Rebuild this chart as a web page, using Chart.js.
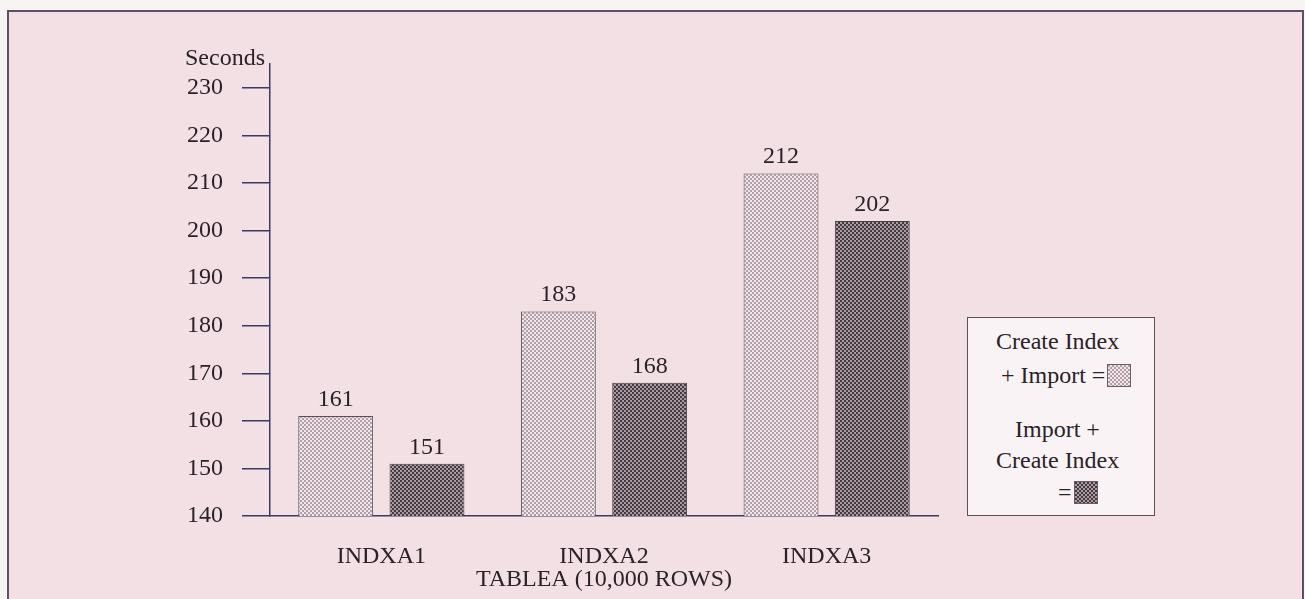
<!DOCTYPE html>
<html>
<head>
<meta charset="utf-8">
<script src="https://cdn.jsdelivr.net/npm/chart.js@4.4.0/dist/chart.umd.min.js"></script>
<style>
  html, body { margin: 0; padding: 0; background: #f7f4f3; overflow: hidden; }
  #frame {
    position: absolute; left: 7px; top: 10px; width: 1293px; height: 600px;
    background: #f2e0e5; border: 2px solid #5c5266;
  }
  #wrap { position: absolute; left: 0; top: 0; width: 1305px; height: 599px; }
  #legendBox {
    position: absolute; left: 967px; top: 317px; width: 186px; height: 197px;
    background: #faf3f5; border: 1px solid #5a5058;
    font-family: "Liberation Serif", serif; font-size: 24px; color: #2a2228;
  }
  #legendBox div { position: absolute; white-space: nowrap; line-height: 28px; }
  .sw { display: inline-block; width: 24px; height: 23px; vertical-align: -4px; margin-left: 2px; border: 1px solid #6a5e66; box-sizing: border-box; }
</style>
</head>
<body>
<div id="frame"></div>
<div id="wrap"><canvas id="chart" width="1305" height="599"></canvas></div>
<div id="legendBox">
  <div style="left:28px;top:9px">Create Index</div>
  <div style="left:33px;top:43px">+ Import =<span class="sw" id="sw1"></span></div>
  <div style="left:47px;top:97px">Import +</div>
  <div style="left:28px;top:128px">Create Index</div>
  <div style="left:90px;top:160px">=<span class="sw" id="sw2"></span></div>
</div>
<script>
// Données
const categories = ['INDXA1', 'INDXA2', 'INDXA3'];
const createThenImport = [161, 183, 212];
const importThenCreate = [151, 168, 202];
const seriesNames = ['Create Index + Import', 'Import + Create Index'];
const yTicks = [140, 150, 160, 170, 180, 190, 200, 210, 220, 230];

// motifs pointillés des barres (damier 2 px)
function makePattern(bg, fg) {
  const c = document.createElement('canvas');
  c.width = 4; c.height = 4;
  const g = c.getContext('2d');
  g.fillStyle = bg; g.fillRect(0, 0, 4, 4);
  g.fillStyle = fg;
  g.fillRect(0, 0, 2, 2);
  g.fillRect(2, 2, 2, 2);
  return c;
}
const lightTile = makePattern('#f2e6ea', '#b09fa6');
const darkTile = makePattern('#aa9ca2', '#443a40');
const ctxChart = document.getElementById('chart').getContext('2d');
const lightFill = ctxChart.createPattern(lightTile, 'repeat');
const darkFill = ctxChart.createPattern(darkTile, 'repeat');
document.getElementById('sw1').style.background = 'url(' + lightTile.toDataURL() + ')';
document.getElementById('sw2').style.background = 'url(' + darkTile.toDataURL() + ')';

const axisColor = '#3a3a64';
const serif = 'Liberation Serif';
const textColor = '#2a2228';

// valeurs au-dessus des barres + titre "Seconds"
const labelsPlugin = {
  id: 'labelsPlugin',
  afterDatasetsDraw(chart) {
    const g = chart.ctx;
    g.save();
    g.font = '24px "' + serif + '"';
    g.fillStyle = textColor;
    g.textAlign = 'center';
    g.textBaseline = 'alphabetic';
    chart.data.datasets.forEach((ds, i) => {
      chart.getDatasetMeta(i).data.forEach((bar, j) => {
        g.fillText(ds.data[j], bar.x, bar.y - 10);
      });
    });
    g.textAlign = 'left';
    g.fillText('Seconds', 185, chart.scales.y.top + 1);
    g.restore();
  }
};

new Chart(ctxChart, {
  type: 'bar',
  data: {
    labels: categories,
    datasets: [{
      label: seriesNames[0],
      data: createThenImport,
      backgroundColor: lightFill,
      borderColor: '#5a5058',
      borderWidth: 1
    }, {
      label: seriesNames[1],
      data: importThenCreate,
      backgroundColor: darkFill,
      borderColor: '#4a4046',
      borderWidth: 1
    }]
  },
  options: {
    responsive: false,
    animation: false,
    layout: { padding: { left: 0, right: 367, top: 64, bottom: 0 } },
    categoryPercentage: 0.82,
    barPercentage: 0.82,
    plugins: { legend: { display: false }, tooltip: { enabled: false } },
    scales: {
      x: {
        grid: { display: false },
        border: { display: true, color: axisColor, width: 1.5 },
        ticks: { color: textColor, font: { family: serif, size: 24 }, padding: 18 },
        title: { display: true, text: 'TABLEA (10,000 ROWS)', color: textColor, font: { family: serif, size: 24 }, padding: { top: 0, bottom: 5 } },
        afterFit(scale) { scale.height = 83; }
      },
      y: {
        min: 140,
        max: 235,
        afterBuildTicks(scale) { scale.ticks = yTicks.map(v => ({ value: v })); },
        grid: { drawOnChartArea: false, drawTicks: true, tickLength: 28, color: axisColor, lineWidth: 1.5 },
        border: { display: true, color: axisColor, width: 1.5 },
        ticks: { color: textColor, font: { family: serif, size: 24 }, padding: 19 },
        afterFit(scale) { scale.width = 270; }
      }
    }
  },
  plugins: [labelsPlugin]
});
</script>
</body>
</html>
